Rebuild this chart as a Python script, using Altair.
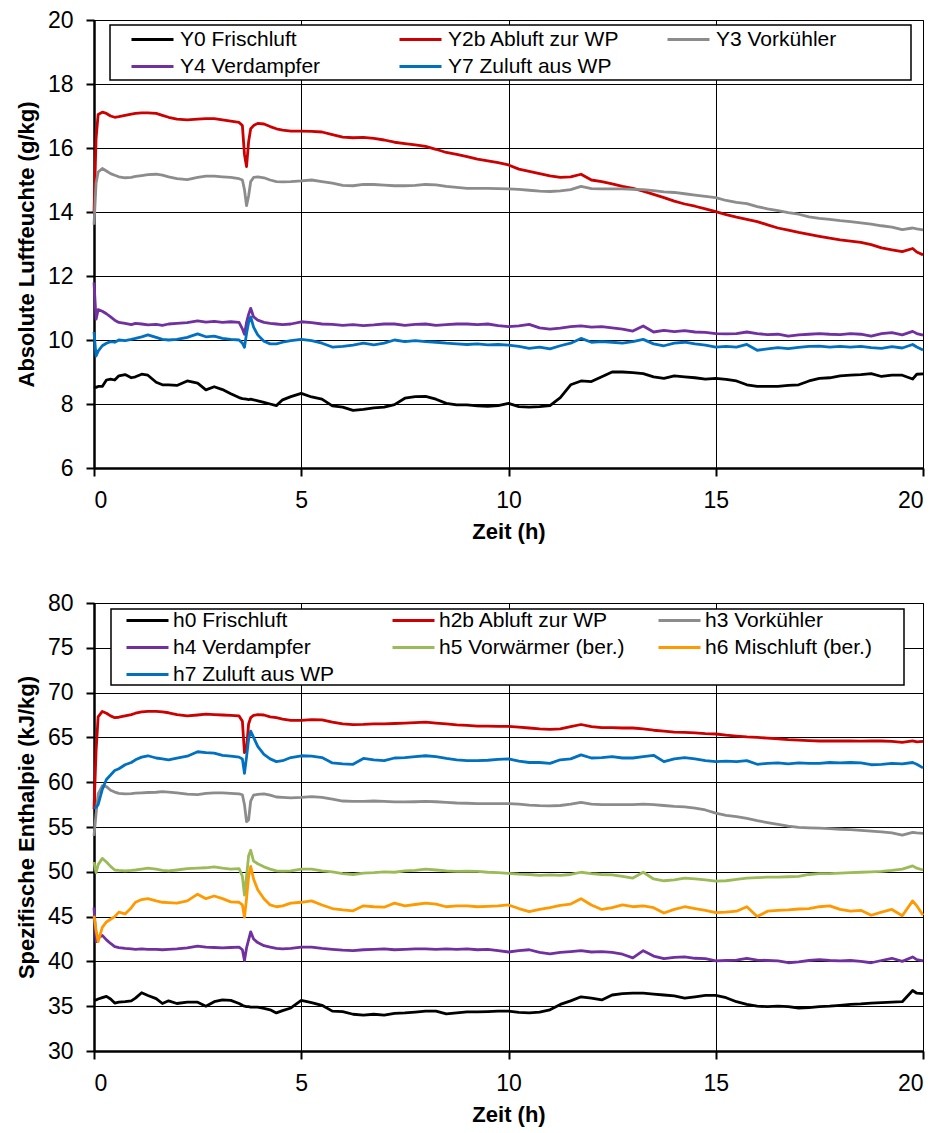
import altair as alt
import pandas as pd

hours = [0, 0.05, 0.1, 0.2, 0.3, 0.4, 0.5, 0.6, 0.75, 0.9,
         1.0, 1.15, 1.3, 1.5, 1.65, 1.8, 2.0, 2.25, 2.5, 2.7, 2.9,
         3.1, 3.3, 3.5, 3.58, 3.63, 3.68, 3.73, 3.78, 3.85, 3.95,
         4.1, 4.25, 4.4, 4.55, 4.75,
         5.0, 5.25, 5.5, 5.75, 6.0, 6.25, 6.5, 6.75, 7.0, 7.25, 7.5, 7.75,
         8.0, 8.25, 8.5, 8.75, 9.0, 9.25, 9.5, 9.75, 10.0, 10.25, 10.5, 10.75,
         11.0, 11.25, 11.5, 11.75, 12.0, 12.25, 12.5, 12.75, 13.0, 13.25, 13.5, 13.75,
         14.0, 14.25, 14.5, 14.75, 15.0, 15.25, 15.5, 15.75, 16.0, 16.25, 16.5, 16.75,
         17.0, 17.25, 17.5, 17.75, 18.0, 18.25, 18.5, 18.75, 19.0, 19.25, 19.5, 19.75,
         19.85, 20.0]

# --- Absolute Luftfeuchte (g/kg) ---
y0 = [8.54, 8.52, 8.55, 8.55, 8.75, 8.78, 8.75, 8.88, 8.92, 8.82,
      8.85, 8.93, 8.9, 8.68, 8.6, 8.6, 8.58, 8.72, 8.65, 8.44, 8.54,
      8.45, 8.32, 8.2, 8.17, 8.16, 8.15, 8.14, 8.15, 8.13, 8.1,
      8.05, 8.0, 7.95, 8.13, 8.23,
      8.33, 8.22, 8.15, 7.94, 7.9, 7.8, 7.83, 7.88, 7.9, 7.98, 8.18, 8.23,
      8.24, 8.15, 8.02, 7.97, 7.97, 7.94, 7.93, 7.95, 8.02, 7.92, 7.9, 7.92,
      7.95, 8.2, 8.6, 8.72, 8.7, 8.85, 9.0, 9.0, 8.98, 8.95, 8.85, 8.8,
      8.88, 8.85, 8.82, 8.78, 8.8, 8.77, 8.72, 8.6, 8.55, 8.55, 8.55, 8.58,
      8.6, 8.72, 8.8, 8.82, 8.88, 8.9, 8.92, 8.95, 8.86, 8.9, 8.9, 8.78,
      8.93, 8.94]
y2b = [14.0, 16.3, 17.05, 17.12, 17.08, 17.0, 16.96, 16.98, 17.02, 17.06,
       17.08, 17.1, 17.1, 17.08, 17.02, 16.96, 16.9, 16.88, 16.9, 16.92, 16.92,
       16.88, 16.84, 16.8, 16.7, 15.8, 15.42, 16.2, 16.6, 16.7, 16.77,
       16.75, 16.67, 16.6, 16.56, 16.53,
       16.53, 16.52, 16.5, 16.42, 16.34, 16.32, 16.33, 16.3, 16.25, 16.18, 16.14, 16.1,
       16.05, 15.96, 15.86, 15.8, 15.73, 15.65, 15.6, 15.54, 15.47, 15.34, 15.27, 15.2,
       15.13, 15.08, 15.1, 15.18, 15.0, 14.95, 14.88, 14.8, 14.74, 14.65, 14.55, 14.45,
       14.34, 14.25, 14.18, 14.1, 14.01, 13.92, 13.84, 13.77, 13.7, 13.6, 13.5, 13.43,
       13.36, 13.3, 13.24, 13.18, 13.13, 13.09, 13.05, 12.98, 12.88, 12.82, 12.76, 12.86,
       12.75, 12.66]
y3 = [13.6, 14.9, 15.25, 15.36, 15.28, 15.2, 15.15, 15.1, 15.07, 15.08,
      15.11, 15.14, 15.17, 15.18, 15.15, 15.1, 15.04, 15.01, 15.08, 15.12, 15.12,
      15.1, 15.08, 15.04, 15.0, 14.7, 14.2, 14.5, 14.95, 15.08, 15.1,
      15.07, 15.0, 14.95, 14.94, 14.95,
      14.97, 15.0, 14.95, 14.9, 14.83, 14.82, 14.86, 14.86, 14.84, 14.82, 14.82, 14.83,
      14.86, 14.85, 14.8, 14.77, 14.74, 14.74, 14.74, 14.73, 14.72, 14.71, 14.68, 14.65,
      14.64, 14.66, 14.7, 14.8, 14.73, 14.72, 14.72, 14.72, 14.71, 14.7, 14.67, 14.63,
      14.61, 14.57, 14.53, 14.49, 14.45, 14.36, 14.3, 14.26, 14.17, 14.1, 14.04, 13.98,
      13.93, 13.85, 13.8, 13.77, 13.73, 13.7, 13.66, 13.62, 13.57, 13.53, 13.45, 13.5,
      13.47, 13.44]
y4 = [11.8, 10.65, 10.95, 10.9, 10.82, 10.72, 10.62, 10.55, 10.52, 10.48,
      10.52, 10.5, 10.47, 10.49, 10.46, 10.5, 10.52, 10.54, 10.6, 10.56, 10.58,
      10.55, 10.57, 10.55, 10.35, 10.18, 10.55, 10.8, 10.99, 10.72, 10.62,
      10.55, 10.52, 10.5, 10.48, 10.5,
      10.57, 10.54, 10.5, 10.49, 10.46, 10.48, 10.45, 10.47, 10.5, 10.5, 10.46, 10.49,
      10.5, 10.46, 10.48, 10.5, 10.5, 10.48, 10.5, 10.45, 10.42, 10.44, 10.49, 10.38,
      10.34, 10.37, 10.42, 10.44, 10.4, 10.42, 10.38, 10.34, 10.28, 10.44, 10.25, 10.3,
      10.26, 10.29, 10.25, 10.24, 10.2, 10.19, 10.2, 10.25, 10.2, 10.17, 10.18, 10.12,
      10.16, 10.18, 10.2, 10.18, 10.17, 10.2, 10.18, 10.12, 10.2, 10.23, 10.16, 10.27,
      10.2, 10.15]
y7 = [10.25, 9.5, 9.65, 9.82, 9.9, 9.95, 9.93, 10.0, 9.98, 10.02,
      10.05, 10.1, 10.16, 10.08, 10.02, 10.0, 10.02, 10.08, 10.19, 10.1, 10.12,
      10.05, 10.02, 10.0, 9.9, 9.77, 10.2, 10.55, 10.72, 10.4, 10.16,
      9.96, 9.88, 9.88, 9.93, 9.98,
      10.02, 9.98, 9.9, 9.78, 9.8, 9.84, 9.9, 9.85, 9.9, 10.0, 9.95, 9.98,
      9.95, 9.93, 9.9, 9.88, 9.86, 9.88, 9.85, 9.86, 9.84, 9.8, 9.74, 9.78,
      9.72, 9.82, 9.9, 10.05, 9.93, 9.95, 9.93, 9.9, 9.95, 10.02, 9.88, 9.82,
      9.9, 9.93, 9.88, 9.84, 9.78, 9.8, 9.78, 9.86, 9.68, 9.72, 9.76, 9.73,
      9.77, 9.8, 9.81, 9.78, 9.8, 9.78, 9.8, 9.76, 9.74, 9.79, 9.75, 9.86,
      9.78, 9.69]

# --- Spezifische Enthalpie (kJ/kg) ---
h0 = [35.64, 35.7, 35.8, 35.95, 36.1, 35.8, 35.35, 35.45, 35.5, 35.6,
      35.9, 36.5, 36.2, 35.85, 35.3, 35.6, 35.3, 35.45, 35.45, 35.0, 35.5,
      35.7, 35.65, 35.3, 35.1, 35.0, 34.95, 34.95, 34.9, 34.9, 34.9,
      34.75, 34.6, 34.25, 34.5, 34.8,
      35.64, 35.4, 35.1, 34.45, 34.4, 34.1, 34.0, 34.1, 34.0, 34.2, 34.25, 34.35,
      34.45, 34.45, 34.15, 34.25, 34.36, 34.36, 34.4, 34.45, 34.44, 34.3, 34.25, 34.35,
      34.6, 35.2, 35.6, 36.05, 35.9, 35.7, 36.25, 36.4, 36.45, 36.45, 36.35, 36.25,
      36.15, 35.9, 36.05, 36.2, 36.2, 35.95, 35.5, 35.2, 35.0, 34.95, 35.0, 34.95,
      34.8, 34.85, 34.95, 35.0, 35.1, 35.2, 35.25, 35.35, 35.4, 35.45, 35.5, 36.75,
      36.45, 36.4]
h2b = [57.0, 63.5, 67.3, 67.9, 67.7, 67.4, 67.2, 67.25, 67.4, 67.55,
       67.7, 67.85, 67.9, 67.9, 67.85, 67.75, 67.55, 67.4, 67.5, 67.6, 67.55,
       67.5, 67.45, 67.4, 66.8, 63.3, 63.8, 66.5, 67.2, 67.45, 67.55,
       67.5, 67.3, 67.2, 67.05, 66.9,
       66.9, 66.98, 66.95, 66.7, 66.5, 66.43, 66.45, 66.5, 66.5, 66.55, 66.6, 66.65,
       66.7, 66.6, 66.5, 66.4, 66.35, 66.25, 66.25, 66.22, 66.22, 66.15, 66.05, 65.95,
       65.9, 65.95, 66.2, 66.44, 66.2, 66.1, 66.1, 66.05, 66.05, 65.95, 65.8, 65.7,
       65.6, 65.55, 65.5, 65.42, 65.38, 65.25, 65.15, 65.05, 65.0, 64.92, 64.85, 64.75,
       64.7, 64.65, 64.6, 64.62, 64.6, 64.6, 64.58, 64.6, 64.6, 64.55, 64.45, 64.6,
       64.5, 64.55]
h3 = [54.0, 56.5, 58.7, 59.6, 59.5, 59.1, 58.9, 58.75, 58.7, 58.72,
      58.78, 58.82, 58.85, 58.88, 58.95, 58.9, 58.8, 58.68, 58.62, 58.75, 58.8,
      58.8, 58.75, 58.7, 58.6, 57.5, 55.6, 55.8, 57.9, 58.55, 58.65,
      58.7, 58.55, 58.35, 58.3, 58.25,
      58.3, 58.4, 58.3, 58.1, 57.9, 57.85, 57.85, 57.9, 57.85, 57.8, 57.8, 57.82,
      57.85, 57.82, 57.75, 57.68, 57.65, 57.6, 57.6, 57.6, 57.6, 57.55, 57.45, 57.38,
      57.36, 57.4, 57.55, 57.75, 57.55, 57.5, 57.5, 57.5, 57.5, 57.55, 57.5, 57.4,
      57.3, 57.25, 57.1, 56.9, 56.55, 56.3, 56.15, 55.95, 55.7, 55.5, 55.3, 55.1,
      54.95, 54.9, 54.87, 54.82, 54.75, 54.7, 54.62, 54.55, 54.45, 54.35, 54.1, 54.4,
      54.35, 54.3]
h4 = [46.0, 42.2, 42.6, 42.9, 42.4, 42.0, 41.65, 41.55, 41.45, 41.4,
      41.35, 41.4, 41.35, 41.35, 41.3, 41.35, 41.4, 41.5, 41.7, 41.6, 41.55,
      41.5, 41.55, 41.6, 41.3, 40.1, 41.5, 42.4, 43.3, 42.5, 42.1,
      41.75, 41.6, 41.45, 41.4, 41.45,
      41.6, 41.6, 41.45, 41.35, 41.25, 41.2, 41.3, 41.35, 41.4, 41.3, 41.35, 41.4,
      41.4, 41.35, 41.4, 41.35, 41.4, 41.3, 41.35, 41.2, 41.05, 41.2, 41.3, 41.0,
      40.85, 41.0, 41.1, 41.2, 41.05, 41.1, 41.0, 40.8, 40.4, 41.2, 40.6, 40.3,
      40.45, 40.5, 40.35, 40.3, 40.05, 40.1, 40.15, 40.35, 40.15, 40.1, 40.05, 39.85,
      39.95, 40.1, 40.2, 40.1, 40.05, 40.1, 40.0, 39.85, 40.1, 40.35, 40.0, 40.5,
      40.2, 40.05]
h5 = [51.1, 49.9, 50.8, 51.5, 51.1, 50.6, 50.2, 50.15, 50.1, 50.15,
      50.2, 50.3, 50.4, 50.3, 50.15, 50.1, 50.2, 50.35, 50.4, 50.45, 50.55,
      50.4, 50.3, 50.35, 49.5, 47.4, 49.5, 51.8, 52.4, 51.2, 50.9,
      50.55, 50.3, 50.1, 50.07, 50.1,
      50.3, 50.3, 50.1, 50.0, 49.8, 49.7, 49.85, 49.9, 50.0, 49.95, 50.1, 50.15,
      50.3, 50.2, 50.1, 50.05, 50.07, 50.05, 49.95, 49.9, 49.83, 49.75, 49.7, 49.6,
      49.65, 49.6, 49.7, 49.95, 49.8, 49.7, 49.65, 49.5, 49.3, 49.95, 49.2, 49.0,
      49.1, 49.3, 49.2, 49.1, 48.95, 49.0, 49.15, 49.3, 49.35, 49.4, 49.4, 49.45,
      49.5, 49.7, 49.8, 49.8, 49.85, 49.9, 49.95, 50.0, 50.05, 50.15, 50.3, 50.66,
      50.4, 50.2]
h6 = [45.1, 43.5, 42.2, 43.8, 44.4, 44.7, 45.0, 45.5, 45.3, 46.0,
      46.6, 46.9, 47.0, 46.75, 46.6, 46.55, 46.5, 46.75, 47.5, 47.0, 47.3,
      47.0, 46.65, 46.6, 46.3, 44.95, 47.0, 49.5, 50.6, 49.2, 48.0,
      47.0, 46.3, 46.1, 46.2, 46.5,
      46.6, 46.75, 46.3, 45.9, 45.75, 45.65, 46.2, 46.1, 46.05, 46.5, 46.2, 46.35,
      46.5, 46.4, 46.1, 46.2, 46.2, 46.1, 46.15, 46.2, 46.3, 45.9, 45.55, 45.8,
      46.0, 46.25, 46.4, 47.0, 46.3, 45.8, 46.0, 46.3, 46.1, 46.2, 46.0, 45.4,
      45.8, 46.1, 45.9, 45.7, 45.45, 45.5, 45.6, 46.1, 45.0, 45.6, 45.7, 45.75,
      45.85, 45.9, 46.1, 46.2, 45.8, 45.6, 45.7, 45.15, 45.5, 45.8, 45.1, 46.75,
      46.2, 45.15]
h7 = [57.1, 57.2, 57.5, 59.2, 60.3, 60.8, 61.3, 61.5, 61.95, 62.2,
      62.5, 62.8, 62.95, 62.7, 62.6, 62.5, 62.7, 62.9, 63.4, 63.3, 63.25,
      63.0, 62.9, 62.8, 62.6, 61.0, 62.8, 64.8, 65.7, 65.0, 64.0,
      63.1, 62.6, 62.3, 62.4, 62.75,
      62.95, 62.9, 62.75, 62.15, 62.05, 62.0, 62.65, 62.5, 62.4, 62.7, 62.75, 62.85,
      62.95, 62.85, 62.65, 62.5, 62.4, 62.4, 62.45, 62.55, 62.6, 62.35, 62.2, 62.2,
      62.1, 62.5, 62.6, 63.05, 62.7, 62.75, 62.85, 62.7, 62.7, 62.85, 63.0, 62.3,
      62.6, 62.75, 62.6, 62.4, 62.3, 62.35, 62.3, 62.4, 62.0, 62.1, 62.15, 62.05,
      62.15, 62.1, 62.1, 62.2, 62.15, 62.2, 62.15, 61.95, 62.0, 62.1, 62.05, 62.2,
      62.0, 61.6]

top_names = ["Y0 Frischluft", "Y2b Abluft zur WP", "Y3 Vorkühler",
             "Y4 Verdampfer", "Y7 Zuluft aus WP"]
top_series = [y0, y2b, y3, y4, y7]
top_colors = ["#000000", "#CC0000", "#8C8C8C", "#7030A0", "#0070C0"]

bot_names = ["h0 Frischluft", "h2b Abluft zur WP", "h3 Vorkühler",
             "h4 Verdampfer", "h5 Vorwärmer (ber.)", "h6 Mischluft (ber.)",
             "h7 Zuluft aus WP"]
bot_series = [h0, h2b, h3, h4, h5, h6, h7]
bot_colors = ["#000000", "#CC0000", "#8C8C8C", "#7030A0", "#9BBB59",
              "#FF9900", "#0070C0"]

x_ticks = [0, 5, 10, 15, 20]
top_y_ticks = [6, 8, 10, 12, 14, 16, 18, 20]
bot_y_ticks = [30, 35, 40, 45, 50, 55, 60, 65, 70, 75, 80]

FONT = "Liberation Sans"
W, H = 829, 448


def long_frame(names, series):
    rows = []
    for name, vals in zip(names, series):
        for t, v in zip(hours, vals):
            rows.append({"t": t, "v": v, "s": name})
    return pd.DataFrame(rows)


def panel(names, series, colors, ydom, yticks, ytitle, lx, ly, sym_off,
          lab_off, col_pad, box):
    df = long_frame(names, series)
    lines = alt.Chart(df).mark_line(strokeWidth=2.8, strokeJoin="round").encode(
        x=alt.X("t:Q",
                scale=alt.Scale(domain=[0, 20], nice=False),
                axis=alt.Axis(values=x_ticks, title="Zeit (h)", format="d")),
        y=alt.Y("v:Q",
                scale=alt.Scale(domain=ydom, nice=False, zero=False),
                axis=alt.Axis(values=yticks, title=ytitle, format="d")),
        color=alt.Color("s:N",
                        scale=alt.Scale(domain=names, range=colors),
                        legend=alt.Legend(
                            title=None, orient="none", legendX=lx, legendY=ly,
                            direction="horizontal", columns=3, gridAlign="all",
                            symbolType="stroke", symbolSize=1764,
                            symbolStrokeWidth=3, symbolOffset=sym_off,
                            clipHeight=21,
                            labelFont=FONT, labelFontSize=21, labelColor="black",
                            labelOffset=lab_off, labelLimit=400,
                            padding=4, columnPadding=col_pad, rowPadding=5)),
    )
    frame = alt.Chart(pd.DataFrame({"k": [0]})).mark_rect(
        fill="white", stroke="black", strokeWidth=1.5
    ).encode(x=alt.value(box[0]), x2=alt.value(box[1]),
             y=alt.value(box[2]), y2=alt.value(box[3]))
    return alt.layer(frame, lines).properties(width=W, height=H)


top = panel(top_names, top_series, top_colors, [6, 20], top_y_ticks,
            "Absolute Luftfeuchte (g/kg)", 16, 5, 16, 5, 30,
            (16, 817, 5, 60))
bottom = panel(bot_names, bot_series, bot_colors, [30, 80], bot_y_ticks,
               "Spezifische Enthalpie (kJ/kg)", 9, 3, 18, 3, 14,
               (17, 810, 6, 82))

chart = alt.vconcat(top, bottom, spacing=48).resolve_scale(
    color="independent"
).resolve_legend(
    color="independent"
).properties(
    padding={"left": 6, "top": 0, "right": 0, "bottom": 5}
).configure(font=FONT).configure_view(
    stroke="black", strokeWidth=1
).configure_axis(
    labelFont=FONT, labelFontSize=23, labelColor="black",
    labelPadding=13, tickSize=8, tickWidth=2, tickColor="black",
    domainColor="black", domainWidth=2.5,
    grid=True, gridColor="black", gridWidth=1,
    titleFont=FONT, titleFontSize=22, titleFontWeight="bold",
    titleColor="black", titlePadding=9
)

chart.save("out.html", embed_options={"renderer": "svg", "actions": False})
